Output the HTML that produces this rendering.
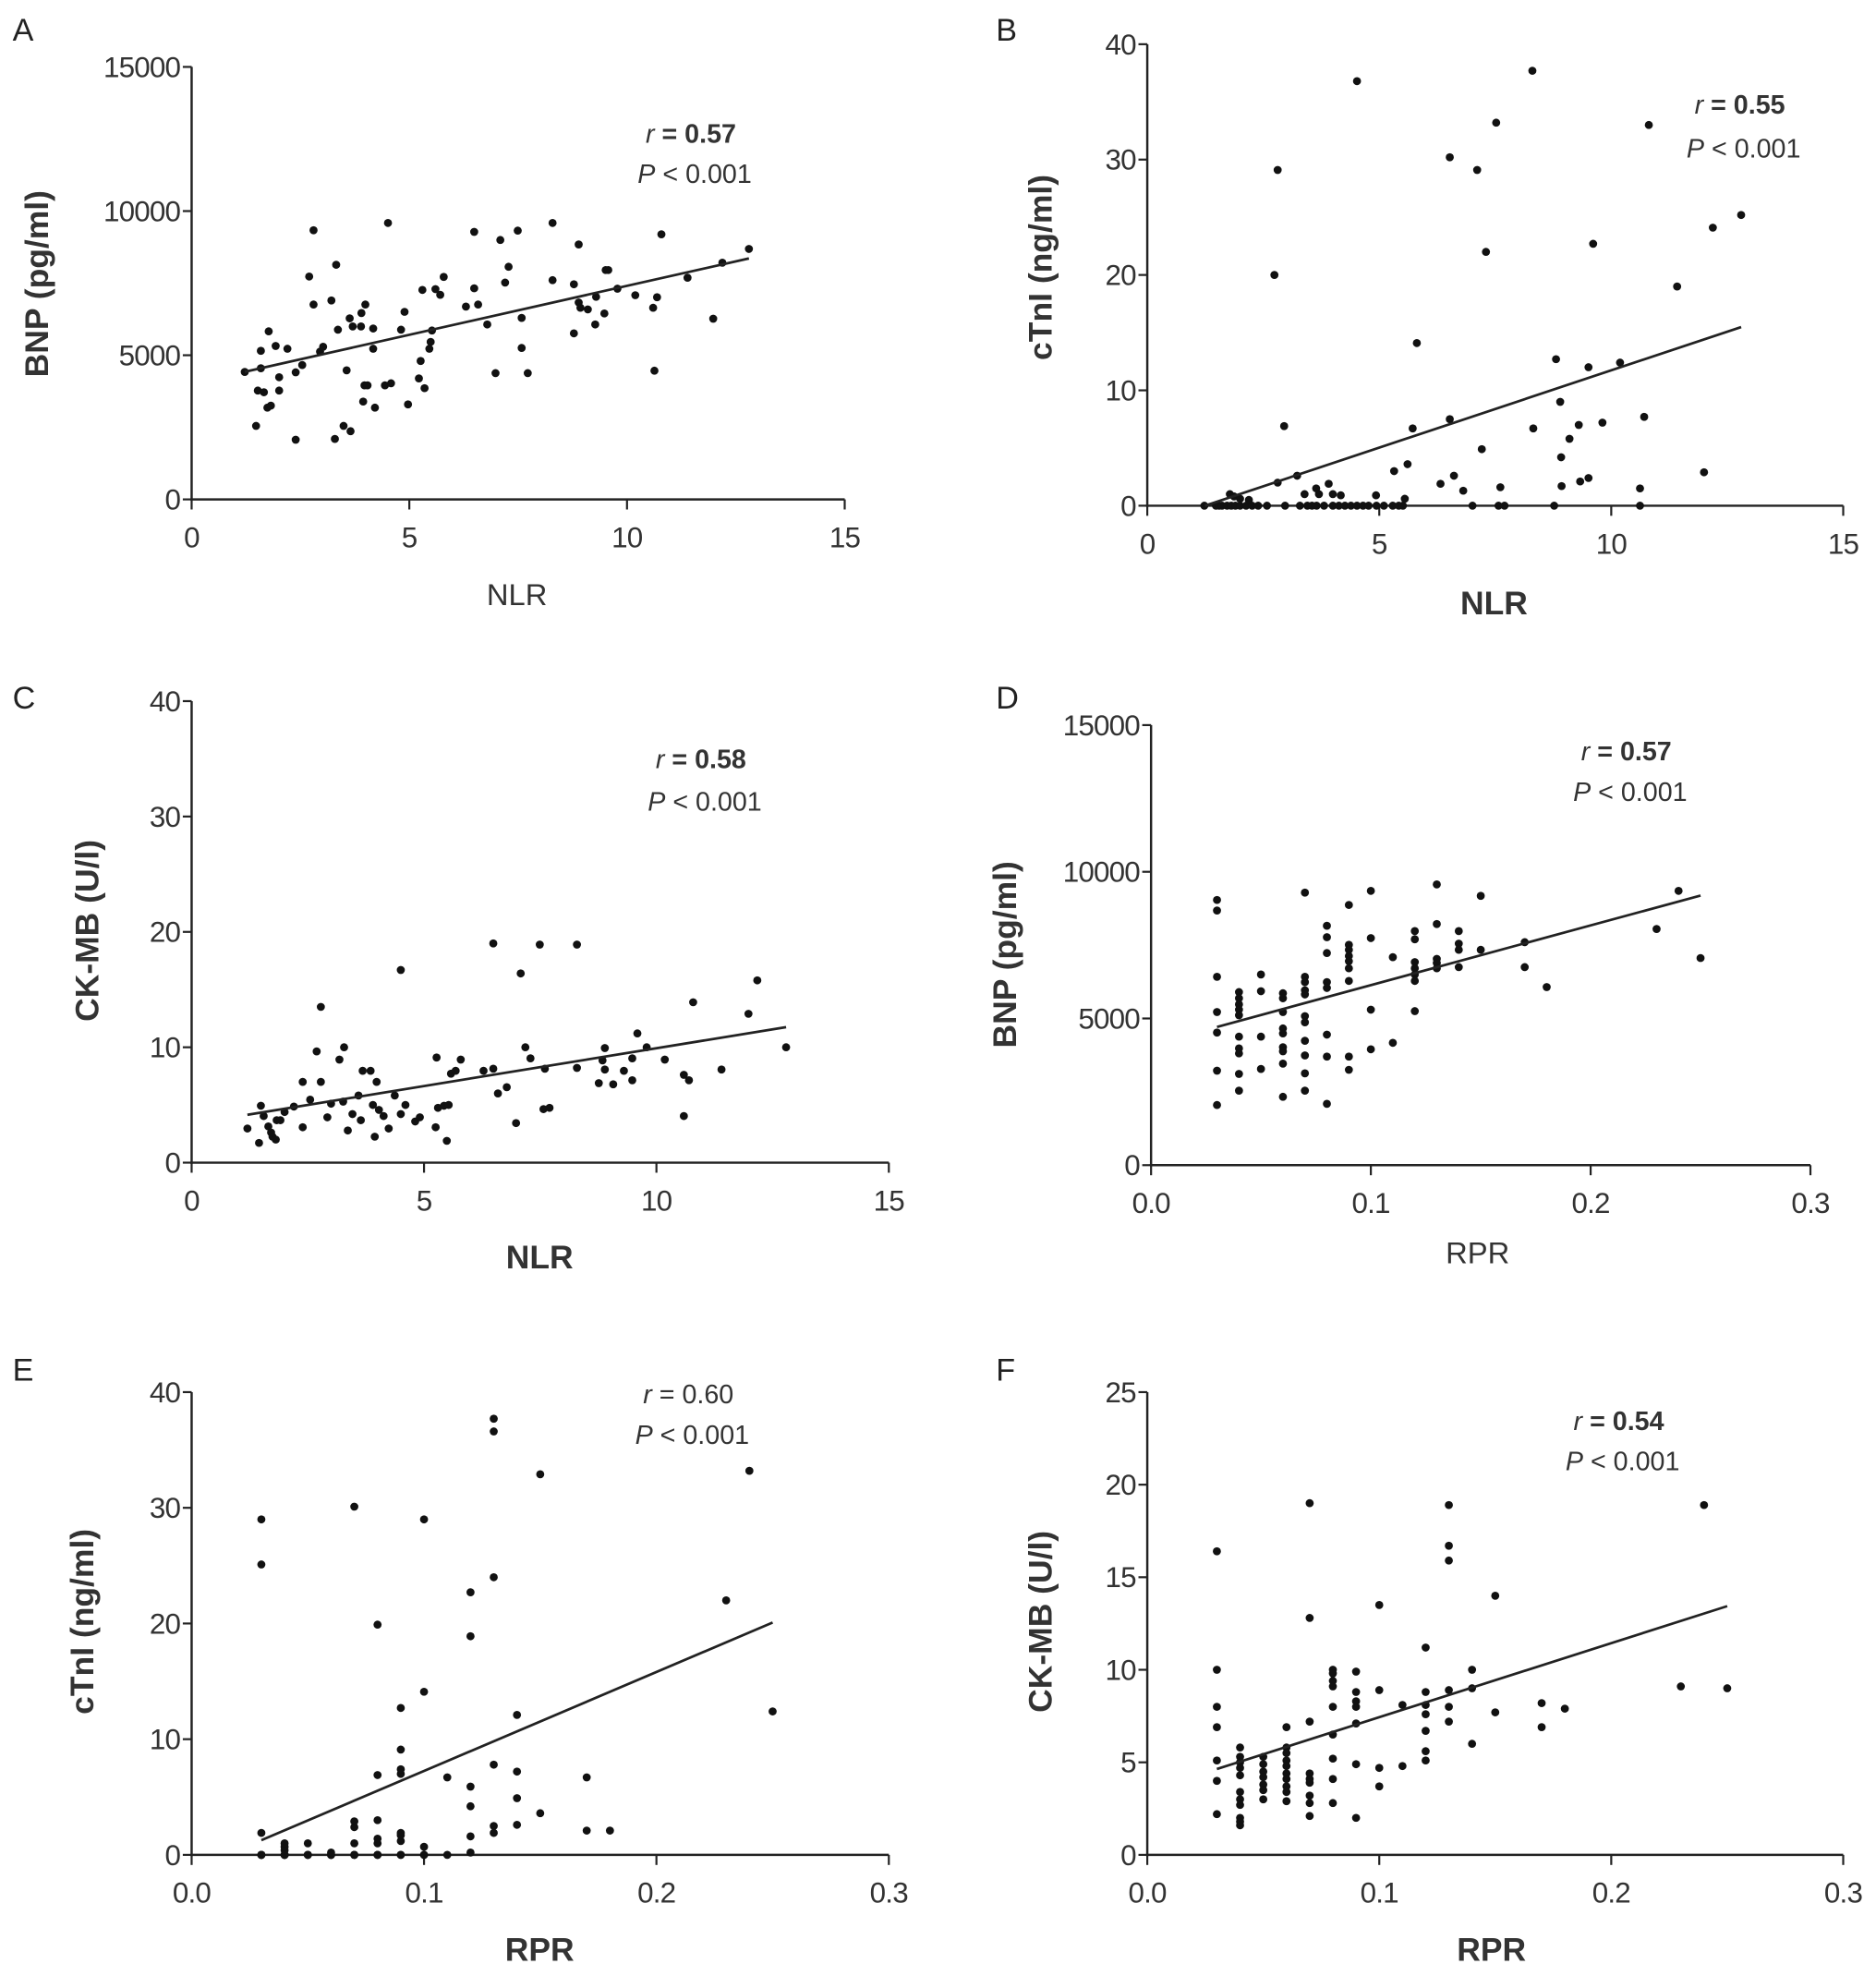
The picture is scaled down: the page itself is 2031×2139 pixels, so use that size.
<!DOCTYPE html>
<html><head><meta charset="utf-8"><style>
html,body{margin:0;padding:0;background:#fff;}
svg{display:block;font-family:"Liberation Sans",Arial,sans-serif;}
</style></head>
<body>
<svg id="fig" width="2031" height="2139" viewBox="0 0 1488 1567" xmlns="http://www.w3.org/2000/svg"></svg>
<script>
// ---------- Panel A: NLR vs BNP ----------
const aX=[1.22,1.48,1.52,1.66,1.59,1.59,1.77,1.74,1.82,1.93,2.01,2.01,2.20,2.39,2.39,2.54,2.70,2.80,2.80,2.95,3.02,3.21,3.32,3.29,3.36,3.49,3.56,3.65,3.63,3.70,3.89,3.90,3.99,3.94,3.97,4.04,4.17,4.17,4.21,4.44,4.51,4.58,4.81,4.89,4.97,5.22,5.26,5.30,5.35,5.46,5.49,5.52,5.60,5.71,5.79,6.30,6.49,6.49,6.58,6.79,6.98,7.09,7.20,7.28,7.49,7.58,7.58,7.72,8.29,8.29,8.78,8.78,8.89,8.89,8.93,9.10,9.27,9.29,9.48,9.51,9.57,9.78,10.19,10.63,10.60,10.69,10.79,11.39,11.98,12.19,12.80];
const aY=[4421,2549,3774,3717,4548,5153,5829,3182,3252,5322,4238,3774,5224,2070,4407,4660,7730,6758,9335,5125,5294,6899,8138,2098,5885,2549,4477,2365,6280,5998,5998,6463,6758,3393,3956,3956,5928,5224,3182,3956,9588,4027,5885,6505,3295,4196,4801,7265,3858,5224,5463,5857,7293,7096,7716,6688,7322,9279,6758,6068,4379,8997,7519,8068,9321,6294,5252,4379,9588,7603,7462,5759,8842,6829,6646,6589,6068,7026,6449,7955,7955,7308,7082,4463,6646,7012,9194,7688,6266,8209,8687];
// ---------- Panel B: NLR vs cTnI ----------
const bX=[1.23,1.48,1.55,1.61,1.72,1.81,1.90,2.00,2.13,2.26,2.39,2.58,2.97,3.29,3.45,3.55,3.65,3.81,4.00,4.13,4.26,4.39,4.52,4.65,4.77,4.94,5.10,5.29,5.42,5.51,7.01,7.57,7.70,8.77,10.62,
1.78,1.87,2.00,2.19,2.81,3.23,3.39,3.64,3.70,3.91,4.00,4.17,4.93,5.32,5.55,5.61,5.72,5.81,2.95,2.81,2.74,4.52,6.32,6.52,6.52,6.61,6.81,7.11,7.21,7.30,7.52,7.61,8.30,8.32,8.81,8.90,8.92,8.93,9.10,9.30,9.33,9.51,9.51,9.61,9.81,10.19,10.62,10.71,10.81,11.42,12.00,12.19,12.80];
const bY=[0,0,0,0,0,0,0,0,0,0,0,0,0,0,0,0,0,0,0,0,0,0,0,0,0,0,0,0,0,0,0,0,0,0,0,
1.0,0.8,0.6,0.5,2.0,2.6,1.0,1.5,1.0,1.9,1.0,0.9,0.9,3.0,0.6,3.6,6.7,14.1,6.9,29.1,20.0,36.8,1.9,7.5,30.2,2.6,1.3,29.1,4.9,22.0,33.2,1.6,37.7,6.7,12.7,9.0,4.2,1.7,5.8,7.0,2.1,2.4,12.0,22.7,7.2,12.4,1.5,7.7,33.0,19.0,2.9,24.1,25.2];
// ---------- Panel C: NLR vs CK-MB ----------
const cX=[1.20,1.45,1.49,1.55,1.65,1.71,1.74,1.81,1.83,1.91,2.00,2.20,2.39,2.39,2.55,2.69,2.78,2.78,2.92,3.00,3.18,3.26,3.28,3.36,3.46,3.59,3.64,3.68,3.85,3.90,3.94,3.98,4.03,4.13,4.24,4.37,4.50,4.50,4.60,4.81,4.91,5.25,5.27,5.30,5.43,5.49,5.53,5.58,5.68,5.79,6.28,6.49,6.49,6.59,6.78,6.98,7.08,7.18,7.29,7.49,7.60,7.57,7.70,8.29,8.29,8.76,8.84,8.89,8.89,9.07,9.30,9.48,9.48,9.59,9.79,10.18,10.59,10.59,10.70,10.79,11.40,11.98,12.17,12.79];
const cY=[2.96,1.71,4.93,4.04,3.14,2.61,2.25,2.0,3.68,3.68,4.39,4.86,3.07,7.0,5.46,9.64,7.0,13.5,3.93,5.11,8.93,5.29,10.0,2.79,4.21,5.82,3.68,7.96,7.96,5.0,2.25,7.0,4.57,4.04,2.96,5.82,4.21,16.7,5.0,3.57,3.93,3.07,9.11,4.75,4.93,1.89,5.0,7.71,7.96,8.93,7.96,19.0,8.14,6.0,6.54,3.43,16.4,10.0,9.04,18.9,8.14,4.64,4.75,18.9,8.21,6.89,8.86,9.93,8.07,6.79,7.96,7.14,9.04,11.2,10.0,8.93,4.04,7.61,7.14,13.9,8.07,12.9,15.8,10.0];
// ---------- Panel D: RPR vs BNP ----------
const dX=[0.03,0.03,0.03,0.03,0.03,0.03,0.03,0.04,0.04,0.04,0.04,0.04,0.04,0.04,0.04,0.04,0.04,0.05,0.05,0.05,0.05,0.06,0.06,0.06,0.06,0.06,0.06,0.06,0.06,0.06,0.07,0.07,0.07,0.07,0.07,0.07,0.07,0.07,0.07,0.07,0.07,0.08,0.08,0.08,0.08,0.08,0.08,0.08,0.08,0.09,0.09,0.09,0.09,0.09,0.09,0.09,0.09,0.09,0.10,0.10,0.10,0.10,0.11,0.11,0.12,0.12,0.12,0.12,0.12,0.12,0.12,0.13,0.13,0.13,0.13,0.13,0.14,0.14,0.14,0.14,0.15,0.15,0.17,0.17,0.18,0.23,0.24,0.25];
const dY=[9040,8680,6420,5220,4520,3220,2050,5900,5690,5480,5300,5110,4380,3980,3810,3110,2540,6500,5930,4380,3280,5860,5690,5220,4660,4490,4020,3880,3460,2330,9290,6420,6240,5960,5820,5080,4870,4240,3740,3130,2540,8160,7770,7230,6240,6040,4450,3700,2090,8870,7510,7340,7130,6950,6710,6280,3700,3250,9350,7740,5300,3950,7090,4170,7980,7700,6920,6710,6500,6280,5250,9570,8220,7030,6890,6710,7980,7550,7340,6750,9180,7340,7600,6750,6070,8050,9350,7060];
// ---------- Panel E: RPR vs cTnI ----------
const eX=[0.03,0.03,0.03,0.03,0.03,0.03,0.03,0.03,
0.04,0.04,0.04,0.04,0.04,0.04,0.04,0.04,
0.05,0.05,0.05,0.05,0.05,
0.06,0.06,0.06,0.06,0.06,
0.07,0.07,0.07,0.07,0.07,0.07,0.07,
0.08,0.08,0.08,0.08,0.08,0.08,0.08,0.08,
0.09,0.09,0.09,0.09,0.09,0.09,0.09,0.09,0.09,
0.10,0.10,0.10,0.10,0.10,
0.11,0.11,
0.12,0.12,0.12,0.12,0.12,0.12,
0.13,0.13,0.13,0.13,0.13,0.13,
0.14,0.14,0.14,0.14,
0.15,0.15,
0.17,0.17,
0.18,0.23,0.24,0.25];
const eY=[0,0,0,0,0,1.9,25.1,29.0,
0,0,0,0,0,0.4,0.7,1.0,
0,0,0,0,1.0,
0,0,0,0,0.2,
0,0,0,1.0,2.4,2.9,30.1,
0,0,0,1.0,1.4,3.0,6.9,19.9,
0,0,1.2,1.7,1.9,7.0,7.4,9.1,12.7,
0,0,0.7,14.1,29.0,
0,6.7,
0.2,1.6,4.2,5.9,18.9,22.7,
1.9,2.5,7.8,24.0,36.6,37.7,
2.6,4.9,7.2,12.1,
3.6,32.9,
2.1,6.7,
2.1,22.0,33.2,12.4];
// ---------- Panel F: RPR vs CK-MB ----------
const fX=[0.03,0.03,0.03,0.03,0.03,0.03,0.03,0.04,0.04,0.04,0.04,0.04,0.04,0.04,0.04,0.04,0.04,0.04,0.05,0.05,0.05,0.05,0.05,0.05,0.05,0.06,0.06,0.06,0.06,0.06,0.06,0.06,0.06,0.06,0.06,0.07,0.07,0.07,0.07,0.07,0.07,0.07,0.07,0.07,0.08,0.08,0.08,0.08,0.08,0.08,0.08,0.08,0.08,0.09,0.09,0.09,0.09,0.09,0.09,0.09,0.10,0.10,0.10,0.10,0.11,0.11,0.12,0.12,0.12,0.12,0.12,0.12,0.12,0.13,0.13,0.13,0.13,0.13,0.13,0.14,0.14,0.14,0.15,0.15,0.17,0.17,0.18,0.23,0.24,0.25];
const fY=[16.4,10.0,8.0,6.9,5.1,4.0,2.2,5.8,5.3,5.0,4.7,4.3,3.4,3.0,2.7,2.0,1.8,1.6,5.3,4.9,4.5,4.2,3.8,3.5,3.0,6.9,5.8,5.5,5.1,4.8,4.4,4.1,3.7,3.4,2.9,19.0,12.8,7.2,4.4,4.1,3.9,3.2,2.8,2.1,10.0,9.8,9.4,9.1,8.0,6.5,5.2,4.1,2.8,9.9,8.8,8.3,8.0,7.1,4.9,2.0,13.5,8.9,4.7,3.7,8.1,4.8,11.2,8.8,8.1,7.6,6.7,5.6,5.1,18.9,16.7,15.9,8.9,8.0,7.2,10.0,9.0,6.0,14.0,7.7,8.2,6.9,7.9,9.1,18.9,9.0];

const nlrTicks=[0,5,10,15], nlrLabels=["0","5","10","15"];
const rprTicks=[0,0.1,0.2,0.3], rprLabels=["0.0","0.1","0.2","0.3"];
const bnpTicks=[0,5000,10000,15000], bnpLabels=["0","5000","10000","15000"];
const tnTicks=[0,10,20,30,40], tnLabels=["0","10","20","30","40"];
const ckFTicks=[0,5,10,15,20,25], ckFLabels=["0","5","10","15","20","25"];

const NS="http://www.w3.org/2000/svg";
const svg=document.getElementById('fig');
function mk(tag,attrs,parent){const e=document.createElementNS(NS,tag);for(const k in attrs)e.setAttribute(k,attrs[k]);(parent||svg).appendChild(e);return e;}

const panels=[
 {id:'a',letter:'A',lx:10,ly:32,x0:152,x1:670,y0:396,y1:53,xs:nlrTicks,xl:nlrLabels,xmax:15,ys:bnpTicks,yl:bnpLabels,ymax:15000,X:aX,Y:aY,
  yt:'BNP (pg/ml)',ytx:38,yty:225,xt:'NLR',xtx:410,xty:480,xtw:'normal',rv:'0.57',rb:true,rx:548,ry:113,py:145},
 {id:'b',letter:'B',lx:790,ly:32,x0:910,x1:1462,y0:401,y1:35,xs:nlrTicks,xl:nlrLabels,xmax:15,ys:tnTicks,yl:tnLabels,ymax:40,X:bX,Y:bY,
  yt:'cTnI (ng/ml)',ytx:834,yty:212,xt:'NLR',xtx:1185,xty:487,xtw:'bold',rv:'0.55',rb:true,rx:1380,ry:90,py:125},
 {id:'c',letter:'C',lx:10,ly:562,x0:152,x1:705,y0:922,y1:556,xs:nlrTicks,xl:nlrLabels,xmax:15,ys:tnTicks,yl:tnLabels,ymax:40,X:cX,Y:cY,
  yt:'CK-MB (U/l)',ytx:78,yty:738,xt:'NLR',xtx:428,xty:1006,xtw:'bold',rv:'0.58',rb:true,rx:556,ry:609,py:643},
 {id:'d',letter:'D',lx:790,ly:562,x0:913,x1:1436,y0:924,y1:575,xs:rprTicks,xl:rprLabels,xmax:0.3,ys:bnpTicks,yl:bnpLabels,ymax:15000,X:dX,Y:dY,
  yt:'BNP (pg/ml)',ytx:806,yty:757,xt:'RPR',xtx:1172,xty:1002,xtw:'normal',rv:'0.57',rb:true,rx:1290,ry:603,py:635},
 {id:'e',letter:'E',lx:10,ly:1095,x0:152,x1:705,y0:1471,y1:1104,xs:rprTicks,xl:rprLabels,xmax:0.3,ys:tnTicks,yl:tnLabels,ymax:40,X:eX,Y:eY,
  yt:'cTnI (ng/ml)',ytx:74,yty:1286,xt:'RPR',xtx:428,xty:1555,xtw:'bold',rv:'0.60',rb:false,rx:546,ry:1113,py:1145},
 {id:'f',letter:'F',lx:790,ly:1095,x0:910,x1:1462,y0:1471,y1:1104,xs:rprTicks,xl:rprLabels,xmax:0.3,ys:ckFTicks,yl:ckFLabels,ymax:25,X:fX,Y:fY,
  yt:'CK-MB (U/l)',ytx:834,yty:1286,xt:'RPR',xtx:1183,xty:1555,xtw:'bold',rv:'0.54',rb:true,rx:1284,ry:1134,py:1166}
];

panels.forEach(p=>{
  const g=mk('g',{});
  
  
  const sx=v=>p.x0+(v/p.xmax)*(p.x1-p.x0);
  const sy=v=>p.y0-(v/p.ymax)*(p.y0-p.y1);
  const L=mk('text',{x:p.lx,y:p.ly,'font-size':25,fill:'#222'},g);L.textContent=p.letter;
  
  
  const ya=mk('line',{x1:p.x0,y1:p.y1,x2:p.x0,y2:p.y0+1,stroke:'#222','stroke-width':1.8},g);
  
  
  const xa=mk('line',{x1:p.x0-1,y1:p.y0,x2:p.x1,y2:p.y0,stroke:'#222','stroke-width':1.8},g);
  
  
  p.ys.forEach((v,i)=>{
    const y=sy(v);
    mk('line',{x1:p.x0-7,y1:y,x2:p.x0,y2:y,stroke:'#222','stroke-width':1.6},g);
    const t=mk('text',{x:p.x0-9,y:y+8,'font-size':23,'letter-spacing':'-0.6','text-anchor':'end',fill:'#333'},g);
    t.textContent=p.yl[i];
    
    
  });
  p.xs.forEach((v,i)=>{
    const x=sx(v);
    mk('line',{x1:x,y1:p.y0,x2:x,y2:p.y0+8,stroke:'#222','stroke-width':1.6},g);
    const t=mk('text',{x:x,y:p.y0+38,'font-size':23,'letter-spacing':'-0.6','text-anchor':'middle',fill:'#333'},g);
    t.textContent=p.xl[i];
    
    
  });
  const yt=mk('text',{x:p.ytx,y:p.yty,'font-size':26,'font-weight':'bold','text-anchor':'middle',fill:'#333',transform:'rotate(-90 '+p.ytx+' '+p.yty+')'},g);
  yt.textContent=p.yt;
  
  
  const xt=mk('text',{x:p.xtx,y:p.xty,'font-size':p.xtw==='bold'?26:24,'font-weight':p.xtw,'text-anchor':'middle',fill:'#333'},g);
  xt.textContent=p.xt;
  
  
  const rt=mk('text',{x:p.rx,y:p.ry,'font-size':21,'text-anchor':'middle',fill:'#333'},g);
  
  
  const s1=mk('tspan',{'font-style':'italic'},rt);s1.textContent='r';
  const s2=mk('tspan',{'font-weight':p.rb?'bold':'normal'},rt);s2.textContent=' = '+p.rv;
  const pt=mk('text',{x:p.rx+3,y:p.py,'font-size':21,'text-anchor':'middle',fill:'#333'},g);
  
  
  const s3=mk('tspan',{'font-style':'italic'},pt);s3.textContent='P';
  const s4=mk('tspan',{},pt);s4.textContent=' < 0.001';
  p.X.forEach((xv,i)=>{
    const c=mk('circle',{cx:sx(xv),cy:sy(p.Y[i]),r:3.2,fill:'#111'},g);
    
    
  });
  const n=p.X.length;let mx=0,my=0;p.X.forEach((v,i)=>{mx+=v;my+=p.Y[i];});mx/=n;my/=n;
  let sxy=0,sxx=0;p.X.forEach((v,i)=>{sxy+=(v-mx)*(p.Y[i]-my);sxx+=(v-mx)*(v-mx);});
  const b=sxy/sxx,a=my-b*mx;
  let xa0=Math.min(...p.X),xa1=Math.max(...p.X);
  if(a+b*xa0<0) xa0=-a/b;
  const rl=mk('line',{x1:sx(xa0),y1:sy(a+b*xa0),x2:sx(xa1),y2:sy(a+b*xa1),stroke:'#222','stroke-width':2},g);
  
  
});
</script>
</body></html>
